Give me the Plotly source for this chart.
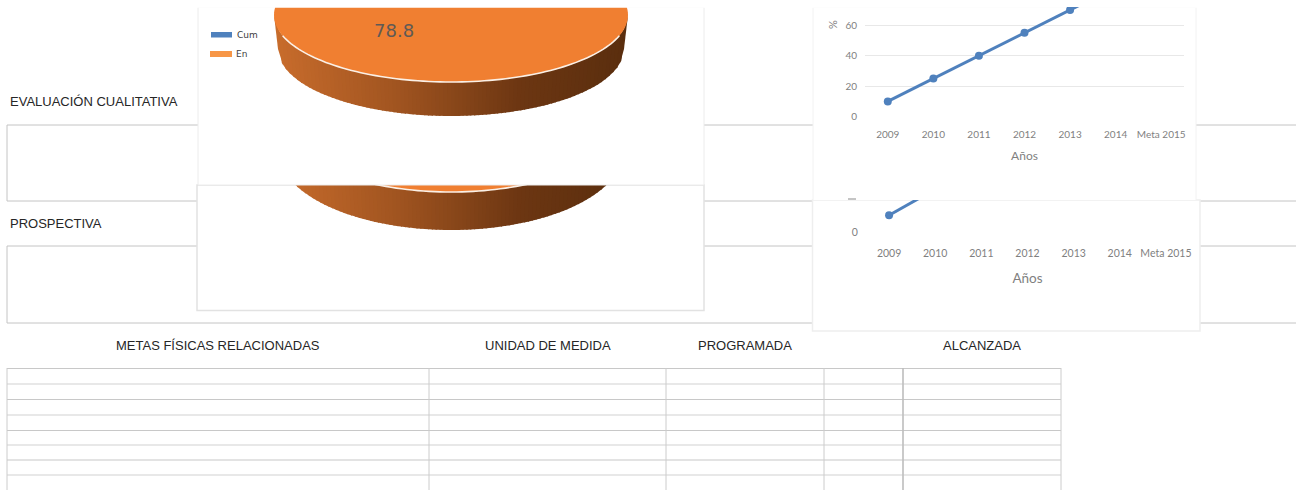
import math
import plotly.graph_objects as go

W, H = 1296, 490

years = ["2009", "2010", "2011", "2012", "2013", "2014", "Meta 2015"]
avance_values = [10, 25, 40, 55, 70, 85, 100]
pie_labels = ["Cum", "En"]
pie_values = [21.2, 78.8]
table_headers = ["METAS FÍSICAS RELACIONADAS", "UNIDAD DE MEDIDA", "PROGRAMADA", "ALCANZADA"]
section_labels = ["EVALUACIÓN CUALITATIVA", "PROSPECTIVA"]
y_ticks_upper = [0, 20, 40, 60]
y_ticks_lower = [0]


def px(x):
    return x / W


def py(y):
    return 1 - y / H


shapes = []


def line(x0, y0, x1, y1, color="#c4c4c4", width=1):
    shapes.append(dict(type="line", xref="paper", yref="paper", layer="below",
                       x0=px(x0), y0=py(y0), x1=px(x1), y1=py(y1),
                       line=dict(color=color, width=width)))


def rect(x0, y0, x1, y1, fill="#ffffff", border=None, width=1):
    shapes.append(dict(type="rect", xref="paper", yref="paper", layer="below",
                       x0=px(x0), y0=py(y0), x1=px(x1), y1=py(y1), fillcolor=fill,
                       line=dict(color=border or "rgba(0,0,0,0)", width=width if border else 0)))


def poly(points, fill, edge=None, width=0, closed=True):
    d = "M" + " L".join(f"{px(x):.5f},{py(y):.5f}" for x, y in points)
    shapes.append(dict(type="path", xref="paper", yref="paper", layer="below",
                       path=d + (" Z" if closed else ""),
                       fillcolor=fill, line=dict(color=edge or "rgba(0,0,0,0)", width=width)))


def lerp_color(t):
    stops = [(0.0, (200, 108, 44)), (0.35, (160, 84, 32)), (0.7, (108, 54, 18)), (1.0, (90, 46, 14))]
    for (a, ca), (b, cb) in zip(stops, stops[1:]):
        if t <= b:
            k = (t - a) / (b - a)
            return "rgb(%d,%d,%d)" % tuple(round(p + (q - p) * k) for p, q in zip(ca, cb))
    return "rgb(90,46,14)"


def pie_3d(cx, cy, rx, ry, depth, rx_low, strips=90):
    """Tilted disc: rim in strips of equal width, then the flat top and its light lower edge."""
    for i in range(strips):
        a0 = math.acos(max(1 - 2 * i / strips, -1))
        a1 = math.acos(max(1 - 2 * (i + 1.3) / strips, -1))
        ca, sa, cb, sb = math.cos(a0), math.sin(a0), math.cos(a1), math.sin(a1)
        poly([(cx - rx * ca, cy + ry * sa), (cx - rx * cb, cy + ry * sb),
              (cx - rx_low * cb, cy + depth + ry * sb), (cx - rx_low * ca, cy + depth + ry * sa)],
             lerp_color((i + 0.5) / strips))
    top = [(cx + rx * math.cos(2 * math.pi * k / 160), cy + ry * math.sin(2 * math.pi * k / 160))
           for k in range(160)]
    poly(top, "#f07f31")
    arc = [(cx + rx * math.cos(math.pi * k / 100), cy + ry * math.sin(math.pi * k / 100))
           for k in range(10, 91)]
    poly(arc, "rgba(0,0,0,0)", "#fbf0e6", 1.6, closed=False)


# sheet rules behind the floating charts
for y in (125, 201, 246, 323):
    line(7, y, W, y)
for y0, y1 in ((125, 201), (246, 323)):
    line(7, y0, 7, y1)

table_cols = [7, 429, 666, 824, 903, 1061]
table_rows = [368.5, 384, 399.5, 415, 430.5, 445, 460, 475]
for i, y in enumerate(table_rows):
    line(table_cols[0], y, table_cols[-1], y, "#c8c8c8" if i % 2 == 0 else "#d2d2d2", 1.2)
for x in table_cols:
    line(x, 368, x, H, "#bdbdbd" if x == 903 else "#cccccc", 1.6 if x == 903 else 1)

# lower pie panel
rect(197, 185, 704, 310.5, "#ffffff", "#e2e2e2", 1.5)
pie_3d(451, 112, 177, 80, 38, 173)
# upper pie panel covers the lower one
rect(198, 7, 704, 185, "#ffffff", "#ececec", 1)
pie_3d(451, 15, 177, 67, 34, 173)

rect(211, 32, 232, 37.5, "#4f81bd")
rect(210, 51, 232, 57, "#f79646")

# line chart panels
rect(812.5, 200, 1200, 331, "#ffffff", "#eeeeee", 1.5)
rect(813, 7, 1196, 200.5, "#ffffff", "#f2f2f2", 1)
line(848, 199, 856, 199, "#8a8a8a", 1)

# strip above everything that the capture cuts off
rect(0, 0, W, 7.7, "#ffffff")

FONT = "Lato, sans-serif"
GREY = "#7f7f7f"


def add_line_chart(suffix, left, right, top, bottom, y_top, ticks, tick_size, title_size, tick_gap, title_standoff):
    fig.add_trace(go.Scatter(
        x=years, y=avance_values, mode="lines+markers", xaxis="x" + suffix, yaxis="y" + suffix,
        line=dict(color="#4f81bd", width=3), marker=dict(color="#4f81bd", size=8),
        showlegend=False, hoverinfo="skip"))
    fig.update_layout(**{
        "xaxis" + suffix: dict(
            domain=[px(left), px(right)], anchor="y" + suffix, type="category", automargin=False,
            categoryorder="array", categoryarray=years, range=[-0.5, 6.5], showgrid=False,
            showline=False, zeroline=False, ticks="outside", ticklen=tick_gap, tickcolor="rgba(0,0,0,0)",
            tickfont=dict(family=FONT, size=tick_size, color=GREY),
            title=dict(text="Años", font=dict(family=FONT, size=title_size, color=GREY), standoff=title_standoff)),
        "yaxis" + suffix: dict(
            domain=[py(bottom), py(top)], anchor="x" + suffix, range=[0, y_top], tickvals=ticks,
            automargin=False, showgrid=True, gridcolor="#e8e8e8", gridwidth=1, zeroline=False, showline=False,
            ticks="outside", ticklen=5, tickcolor="rgba(0,0,0,0)",
            tickfont=dict(family=FONT, size=tick_size, color=GREY)),
    })


fig = go.Figure()
add_line_chart("", 865, 1184, 7, 116.7, (116.7 - 7) / 1.525, y_ticks_upper, 10, 12, 8, 12)
add_line_chart("2", 866, 1189, 200, 232.7, (232.7 - 200) / 1.74, y_ticks_lower, 10.5, 13.5, 11, 15)

annotations = []


def text(x, y, s, size, color, family="Liberation Sans, Arial, sans-serif", anchor="center", angle=0):
    annotations.append(dict(x=px(x), y=py(y), xref="paper", yref="paper", text=s, showarrow=False,
                            xanchor=anchor, yanchor="middle", textangle=angle,
                            font=dict(family=family, size=size, color=color)))


text(8, 101, section_labels[0], 13, "#262626", anchor="left")
text(8, 223, section_labels[1], 13, "#262626", anchor="left")
for cx, label in zip((218, 548, 745, 982), table_headers):
    text(cx, 345, label, 13, "#262626")
text(394, 31, f"{pie_values[1]:.1f}", 18, "#5f5a55", "DejaVu Sans")
text(235, 35, pie_labels[0], 9, "#404040", "DejaVu Sans", "left")
text(234, 54, pie_labels[1], 9, "#404040", "DejaVu Sans", "left")
text(833, 25, "%", 11, GREY, FONT, angle=-90)

fig.update_layout(width=W, height=H, margin=dict(l=0, r=0, t=0, b=0), paper_bgcolor="#ffffff",
                  plot_bgcolor="rgba(0,0,0,0)", shapes=shapes, annotations=annotations,
                  showlegend=False)
fig.write_html("out.html", config=dict(displayModeBar=False),
               post_script="document.body.style.margin='0';")
